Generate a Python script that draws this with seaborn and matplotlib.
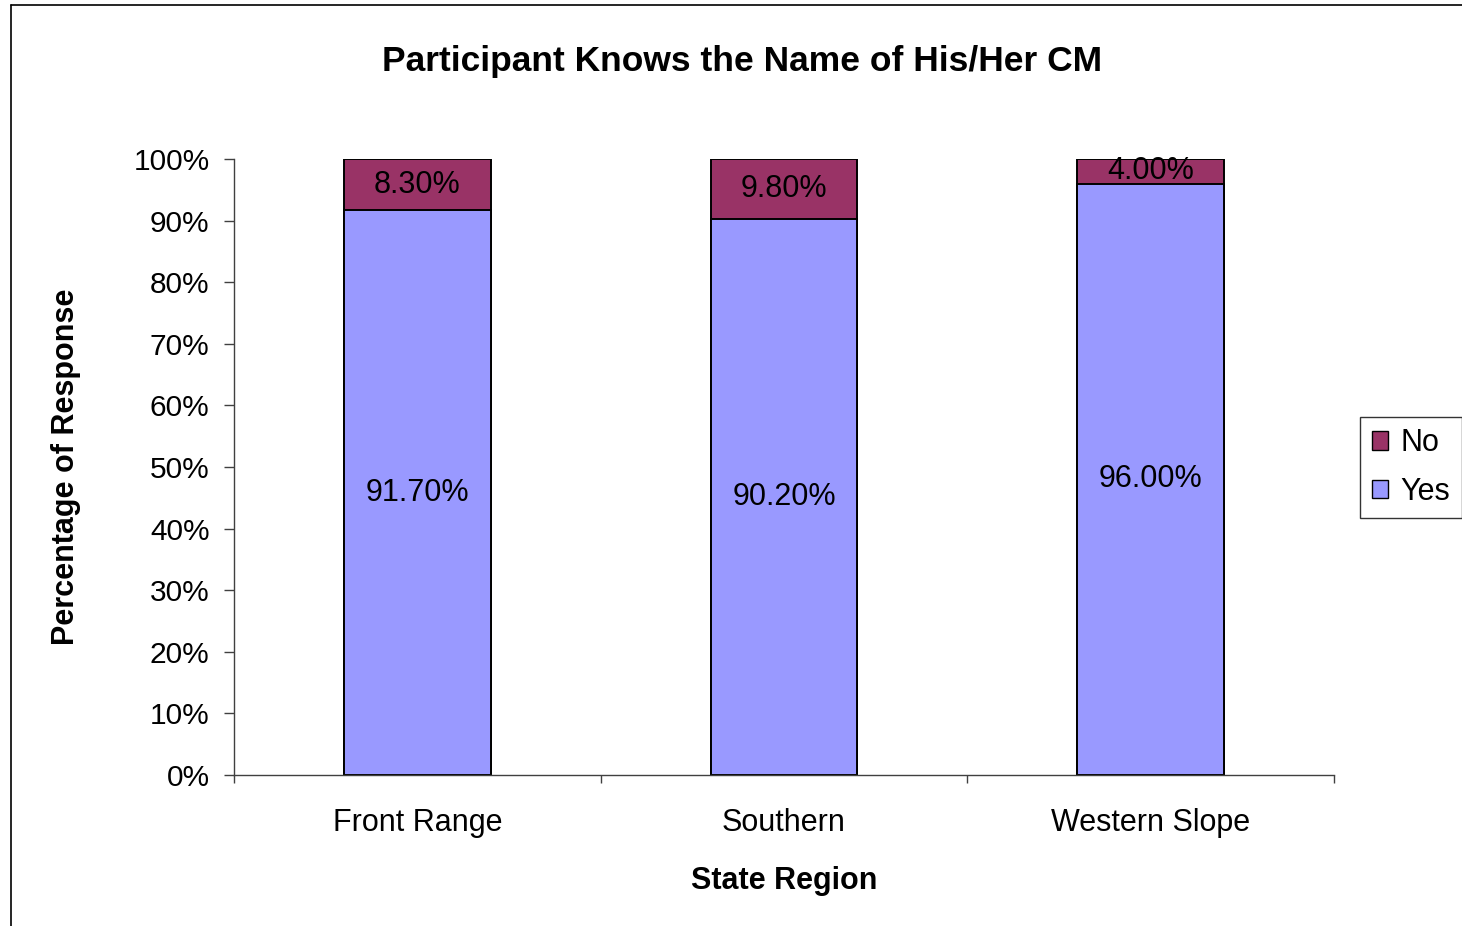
import matplotlib
matplotlib.use("Agg")

import matplotlib.pyplot as plt
import matplotlib.patches as mpatches
from matplotlib.lines import Line2D
from matplotlib.ticker import PercentFormatter, FixedLocator
import pandas as pd
import seaborn as sns

# Data
regions = ["Front Range", "Southern", "Western Slope"]
yes_pct = [91.7, 90.2, 96.0]
no_pct = [8.3, 9.8, 4.0]

_YES_COLOR = "#9999FF"
_NO_COLOR = "#993366"

sns.set_theme(style="white")
plt.rcParams["font.family"] = ["Liberation Sans", "DejaVu Sans"]
plt.rcParams.update({
    "text.color": "black",
    "axes.labelcolor": "black",
    "xtick.color": "black",
    "ytick.color": "black",
})

df = pd.DataFrame({"region": regions, "Yes": yes_pct, "No": no_pct})
df["total"] = df["Yes"] + df["No"]

fig = plt.figure(figsize=(14.62, 9.26), dpi=100)
ax = fig.add_axes([234 / 1462, 1 - 775 / 926, 1100 / 1462, 616 / 926])

# stacked look: full-height "No" bars, then "Yes" bars drawn over them
sns.barplot(data=df, x="region", y="total", color=_NO_COLOR, width=0.4,
            edgecolor="black", linewidth=1.4, saturation=1, ax=ax)
sns.barplot(data=df, x="region", y="Yes", color=_YES_COLOR, width=0.4,
            edgecolor="black", linewidth=1.4, saturation=1, ax=ax)

for i, (y, n) in enumerate(zip(yes_pct, no_pct)):
    ax.text(i, y / 2, f"{y:.2f}%", ha="center", va="center", fontsize=22)
    ax.text(i, y + n / 2, f"{n:.2f}%", ha="center", va="center", fontsize=22)

ax.set_xlim(-0.5, 2.5)
ax.set_ylim(0, 100)
ax.yaxis.set_major_locator(FixedLocator(range(0, 101, 10)))
ax.yaxis.set_major_formatter(PercentFormatter(decimals=0))
ax.xaxis.set_minor_locator(FixedLocator([-0.5, 0.5, 1.5, 2.5]))

ax.tick_params(axis="y", which="major", direction="out", length=7.5,
               width=1, color="#404040", pad=10, labelsize=21.5, left=True)
ax.tick_params(axis="x", which="major", length=0, pad=24, labelsize=22)
ax.tick_params(axis="x", which="minor", direction="out", length=6,
               width=1, color="#404040", bottom=True)

for side in ["top", "right"]:
    ax.spines[side].set_visible(False)
for side in ["left", "bottom"]:
    ax.spines[side].set_color("#404040")
    ax.spines[side].set_linewidth(1)

ax.set_xlabel("State Region", fontsize=22, fontweight="bold", labelpad=20)
ax.set_ylabel("Percentage of Response", fontsize=22, fontweight="bold",
              labelpad=38)
fig.text(742 / 1462, 1 - 61 / 926, "Participant Knows the Name of His/Her CM",
         ha="center", va="center", fontsize=25.5, fontweight="bold")

handles = [
    mpatches.Patch(facecolor=_NO_COLOR, edgecolor="black", label="No"),
    mpatches.Patch(facecolor=_YES_COLOR, edgecolor="black", label="Yes"),
]
leg = fig.legend(handles=handles, loc="center left",
                 bbox_to_anchor=(1360 / 1462, 1 - 467.5 / 926),
                 bbox_transform=fig.transFigure, borderaxespad=0,
                 fontsize=22, frameon=True, fancybox=False,
                 handlelength=0.55, handleheight=0.55, handletextpad=0.4,
                 labelspacing=0.6, borderpad=0.38)
leg.get_frame().set_edgecolor("black")
leg.get_frame().set_linewidth(1)

# outer chart-area border (top and left edges visible in the reference)
fig.add_artist(Line2D([11 / 1462, 1], [1 - 5 / 926, 1 - 5 / 926],
                      transform=fig.transFigure, color="black", lw=1.2))
fig.add_artist(Line2D([11 / 1462, 11 / 1462], [0, 1 - 5 / 926],
                      transform=fig.transFigure, color="black", lw=1.2))

fig.savefig("out.png", dpi=100)
plt.close(fig)
